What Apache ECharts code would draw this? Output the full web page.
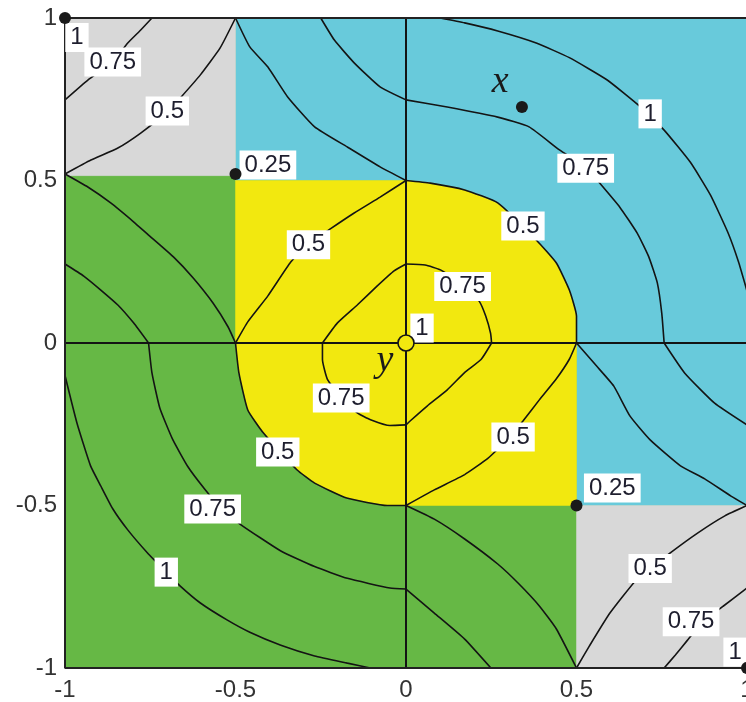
<!DOCTYPE html>
<html>
<head>
<meta charset="utf-8">
<script src="https://cdn.jsdelivr.net/npm/echarts@6/dist/echarts.min.js"></script>
<style>html,body{margin:0;padding:0;background:#fff}#c{width:746px;height:702px}</style>
</head>
<body>
<div id="c"></div>
<script>
// ---- axis ticks ----
const axisMin = -1, axisMax = 1, axisStep = 0.5;

// ---- colour regions (data coords) ----
const plotSquare = [[-1,-1],[1,-1],[1,1],[-1,1]];
const grayUL = [[-1,0.515],[-0.5,0.515],[-0.5,1],[-1,1]];
const grayLR = [[0.5,-1],[1,-1],[1,-0.5],[0.5,-0.5]];
const cyanArea = [[-0.5,0.5],[-0.5,1],[1,1],[1,-0.5],[0.5,-0.5],[0.5,0],[0,0],[0,0.5]];
const arcUR = [[0,0.5],[0.071,0.492],[0.172,0.471],[0.269,0.431],[0.382,0.317],[0.441,0.246],[0.479,0.163],[0.5,0.083],[0.5,0]];
const arcLL = [[-0.5,0],[-0.49,-0.092],[-0.464,-0.206],[-0.418,-0.277],[-0.32,-0.39],[-0.268,-0.431],[-0.174,-0.477],[-0.055,-0.5],[0,-0.5]];

// ---- contour lines (data coords) ----
const grayUL075 = [[-1,0.748],[-0.933,0.809],[-0.86,0.865],[-0.816,0.923],[-0.778,0.963],[-0.745,1]];
const grayUL050 = [[-1,0.52],[-0.924,0.563],[-0.845,0.6],[-0.778,0.646],[-0.70,0.711],[-0.662,0.754],[-0.603,0.825],[-0.545,0.908],[-0.5,1]];
const grayLR050 = [[0.5,-1],[0.538,-0.932],[0.598,-0.831],[0.678,-0.726],[0.775,-0.646],[0.855,-0.585],[0.935,-0.532],[1,-0.5]];
const grayLR075 = [[0.757,-1],[0.79,-0.96],[0.825,-0.915],[0.865,-0.865],[0.93,-0.81],[1,-0.754]];
const cyan050a = [[-0.5,1],[-0.458,0.911],[-0.405,0.849],[-0.347,0.757],[-0.268,0.665],[-0.172,0.603],[-0.076,0.542],[0,0.5]];
const cyan050b = [[0.5,0],[0.559,-0.071],[0.609,-0.132],[0.657,-0.225],[0.716,-0.298],[0.805,-0.378],[0.876,-0.418],[0.953,-0.471],[1,-0.5]];
const cyan075a = [[-0.25,1],[-0.21,0.932],[-0.152,0.862],[-0.076,0.788],[0,0.748]];
const cyan075b = [[0,0.748],[0.121,0.726],[0.269,0.695],[0.361,0.665],[0.45,0.594],[0.53,0.538],[0.568,0.492],[0.627,0.418],[0.678,0.338],[0.712,0.265],[0.737,0.185],[0.75,0.092],[0.757,0]];
const cyan075c = [[0.757,0],[0.817,-0.092],[0.905,-0.185],[1,-0.252]];
const cyan100 = [[0.1,1],[0.172,0.985],[0.269,0.96],[0.382,0.923],[0.479,0.878],[0.589,0.81],[0.686,0.728],[0.757,0.655],[0.834,0.556],[0.893,0.455],[0.944,0.34],[0.975,0.25],[1,0.16]];
const green050a = [[-1,0.52],[-0.933,0.48],[-0.866,0.431],[-0.799,0.373],[-0.758,0.335],[-0.682,0.265],[-0.624,0.2],[-0.566,0.123],[-0.522,0.05],[-0.5,0]];
const green050b = [[0,-0.5],[0.083,-0.542],[0.172,-0.603],[0.269,-0.68],[0.33,-0.74],[0.391,-0.809],[0.441,-0.88],[0.5,-1]];
const green075a = [[-1,0.243],[-0.945,0.206],[-0.895,0.163],[-0.845,0.117],[-0.799,0.062],[-0.755,0]];
const green075b = [[-0.755,0],[-0.745,-0.092],[-0.722,-0.2],[-0.685,-0.295],[-0.64,-0.38],[-0.59,-0.45],[-0.545,-0.505],[-0.487,-0.557],[-0.367,-0.64],[-0.268,-0.688],[-0.172,-0.724],[-0.047,-0.754],[0,-0.757]];
const green075c = [[0,-0.757],[0.083,-0.831],[0.172,-0.911],[0.249,-1]];
const green100 = [[-1,-0.1],[-0.965,-0.246],[-0.925,-0.378],[-0.895,-0.44],[-0.86,-0.51],[-0.816,-0.575],[-0.758,-0.646],[-0.706,-0.702],[-0.662,-0.748],[-0.603,-0.8],[-0.525,-0.852],[-0.458,-0.89],[-0.367,-0.93],[-0.268,-0.963],[-0.172,-0.985],[-0.105,-1]];
const yellow050ul = [[-0.5,0],[-0.464,0.065],[-0.405,0.145],[-0.338,0.249],[-0.289,0.302],[-0.222,0.351],[-0.152,0.4],[-0.076,0.449],[0,0.5]];
const yellow050lr = [[0,-0.5],[0.083,-0.452],[0.172,-0.405],[0.24,-0.355],[0.3,-0.295],[0.343,-0.24],[0.391,-0.175],[0.441,-0.11],[0.479,-0.05],[0.5,0]];
const yellow075a = [[-0.245,0],[-0.201,0.062],[-0.143,0.117],[-0.085,0.175],[-0.035,0.222],[0,0.243]];
const yellow075b = [[0,0.243],[0.056,0.24],[0.101,0.225],[0.17,0.178],[0.215,0.128],[0.234,0.082],[0.248,0.03],[0.251,0]];
const yellow075c = [[0.251,0],[0.22,-0.051],[0.171,-0.092],[0.121,-0.144],[0.062,-0.194],[0.012,-0.24],[0,-0.252]];
const yellow075d = [[0,-0.252],[-0.047,-0.254],[-0.104,-0.236],[-0.143,-0.215],[-0.19,-0.165],[-0.23,-0.113],[-0.245,-0.051],[-0.245,0]];

// ---- contour labels [x, y, text] ----
const contourLabels = [
  [-0.965,0.94,'1'],[-0.86,0.865,'0.75'],[-0.70,0.714,'0.5'],[-0.405,0.548,'0.25'],
  [-0.286,0.302,'0.5'],[0.343,0.36,'0.5'],[0.527,0.538,'0.75'],[0.716,0.705,'1'],
  [0.166,0.174,'0.75'],[0.047,0.046,'1'],[-0.19,-0.169,'0.75'],[-0.376,-0.335,'0.5'],
  [0.314,-0.289,'0.5'],[0.605,-0.446,'0.25'],[0.716,-0.694,'0.5'],[0.836,-0.858,'0.75'],
  [0.965,-0.951,'1'],[-0.567,-0.511,'0.75'],[-0.703,-0.705,'1']
];

// ---- points ----
const blackDots = [[-1,1],[-0.5,0.52],[0.5,-0.5],[1,-1],[0.34,0.726]];
const originPoint = [[0,0]];
const pointNames = [[0.276,0.803,'x'],[-0.062,-0.055,'y']];

// ---- frame & axes through zero ----
const frameLine = [[1,1],[-1,1],[-1,-1],[1,-1]];
const zeroV = [[0,-1],[0,1]];
const zeroH = [[-1,0],[1,0]];

const C = {gray:'#d8d8d8', cyan:'#68cadb', green:'#66b845', yellow:'#f2e80f', ink:'#141414'};

function poly(pts, color){
  return {type:'custom', coordinateSystem:'cartesian2d', silent:true, z:1, clip:true,
    data:[[0,0]],
    renderItem:(params, api)=>({type:'polygon', shape:{points:pts.map(p=>api.coord(p))}, style:{fill:color, stroke:color, lineWidth:0.5}})
  };
}
function line(data, opt){
  return Object.assign({type:'line', data, symbol:'none', smooth:0.15, silent:true, z:3,
    lineStyle:{color:C.ink, width:1.6}}, opt||{});
}

const yellowArea = [[-0.5,0],[-0.5,0.5]].concat(arcUR, [[0.5,-0.5],[0,-0.5]], arcLL.slice().reverse());

const contourSets = [grayUL075, grayUL050, grayLR050, grayLR075, cyan050a, arcUR, cyan050b,
  cyan075a, cyan075b, cyan075c, cyan100, green050a, arcLL, green050b, green075a, green075b, green075c,
  green100, yellow050ul, yellow050lr, yellow075a, yellow075b, yellow075c, yellow075d];

const series = [
  poly(plotSquare, C.green),
  poly(cyanArea, C.cyan),
  poly(yellowArea, C.yellow),
  poly(grayUL, C.gray),
  poly(grayLR, C.gray),
  line(zeroV, {smooth:false, z:2, lineStyle:{color:C.ink, width:2}}),
  line(zeroH, {smooth:false, z:2, lineStyle:{color:C.ink, width:2}}),
  ...contourSets.map(d=>line(d)),
  line(frameLine, {smooth:false, clip:false, z:4, lineStyle:{color:'#222', width:2}}),
  {type:'scatter', data:contourLabels, symbolSize:1, itemStyle:{color:'#fff', opacity:1}, z:5, silent:true,
    label:{show:true, position:'inside', formatter:p=>p.data[2], backgroundColor:'#fff', opacity:1,
      padding:[3,5,2,5], fontSize:24, color:'#1e1e2e', fontFamily:'Liberation Sans'}},
  {type:'scatter', data:blackDots, symbol:'circle', symbolSize:12, itemStyle:{color:'#1a1a1a', opacity:1}, z:6, silent:true, clip:false},
  {type:'scatter', data:originPoint, symbol:'circle', symbolSize:16, itemStyle:{color:C.yellow, borderColor:C.ink, borderWidth:1.6, opacity:1}, z:6, silent:true},
  {type:'scatter', data:pointNames, symbolSize:1, itemStyle:{color:'rgba(0,0,0,0)', opacity:1}, z:6, silent:true,
    label:{show:true, position:'inside', formatter:p=>p.data[2], fontSize:38, fontStyle:'italic', opacity:1,
      fontFamily:'Liberation Serif', color:'#1a1a1a'}}
];

const chart = echarts.init(document.getElementById('c'), null, {renderer:'canvas'});
chart.setOption({
  animation:false,
  grid:{left:65, top:18, width:682, height:650, containLabel:false, outerBoundsMode:'none'},
  xAxis:{type:'value', min:axisMin, max:axisMax, interval:axisStep,
    axisLine:{show:false}, axisTick:{show:false}, splitLine:{show:false},
    axisLabel:{fontSize:24, color:'#333', margin:10, fontFamily:'Liberation Sans'}},
  yAxis:{type:'value', min:axisMin, max:axisMax, interval:axisStep,
    axisLine:{show:false}, axisTick:{show:false}, splitLine:{show:false},
    axisLabel:{fontSize:24, color:'#333', margin:8, fontFamily:'Liberation Sans'}},
  series
});
</script>
</body>
</html>
